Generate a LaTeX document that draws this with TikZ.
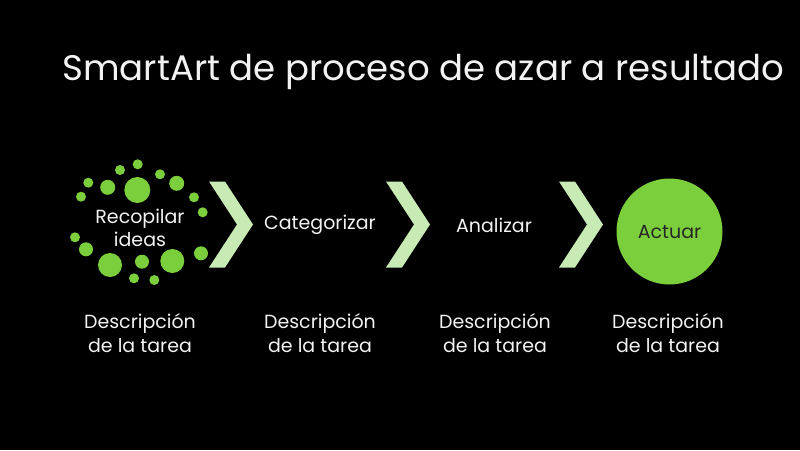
\documentclass[tikz,border=0pt]{standalone}
\usepackage{fontspec}
\setmainfont{Poppins}
\definecolor{dotgreen}{HTML}{7CCF3C}
\definecolor{chevgreen}{HTML}{C8EAB4}
\definecolor{softwhite}{HTML}{F2F2F2}
\begin{document}
\begin{tikzpicture}[
x=1pt, y=-1pt,
steptext/.style={
    text=softwhite,
    align=center,
    font=\fontsize{19}{23}\selectfont},
desctext/.style={
    text=softwhite,
    align=center,
    anchor=base,
    font=\fontsize{19}{24}\selectfont},
chevron/.pic={
    \fill[chevgreen] (-22,-43) -- (-6,-43) -- (22,0) -- (-6,43) -- (-22,43) -- (6,0) -- cycle;}
]

\fill[black] (0,0) rectangle (800,450);

\node at (59, 80) [anchor=base west, text=softwhite, font=\fontsize{35.5}{40}\selectfont] (title) {SmartArt de proceso de azar a resultado};

% dots round the first step
\foreach \x/\y/\r in {137.7/164.3/5, 120/170/5, 160/174.3/5, 88.3/182.7/5,
    137.3/190/13, 107.7/187.3/7.5, 176.7/183.3/7.5, 81/196.7/5, 194/197.3/5,
    202.7/212.3/5, 75/237.3/5, 86/249.3/7, 201/253.3/7, 110/265/12,
    142/261.7/7, 172.3/261/12, 134/278.3/5, 154.3/280/5}
    \fill[dotgreen] (\x,\y) circle (\r);

\node at (140, 228) [steptext] (collect) {Recopilar\\ideas};
\node at (320, 225) [steptext] (sort) {Categorizar};
\node at (494, 225) [steptext] (analyse) {Analizar};
\node at (669.5, 231.5) [circle, fill=dotgreen, minimum size=106pt, inner sep=0pt,
    font=\fontsize{19}{23}\selectfont, text=black!85] (act) {Actuar};

\pic at (231, 224.5) {chevron};
\pic at (408, 224.5) {chevron};
\pic at (581, 224.5) {chevron};

\node at (140, 352) [desctext] (desc1) {Descripción\\de la tarea};
\node at (320, 352) [desctext] (desc2) {Descripción\\de la tarea};
\node at (495, 352) [desctext] (desc3) {Descripción\\de la tarea};
\node at (668, 352) [desctext] (desc4) {Descripción\\de la tarea};

\end{tikzpicture}
\end{document}
